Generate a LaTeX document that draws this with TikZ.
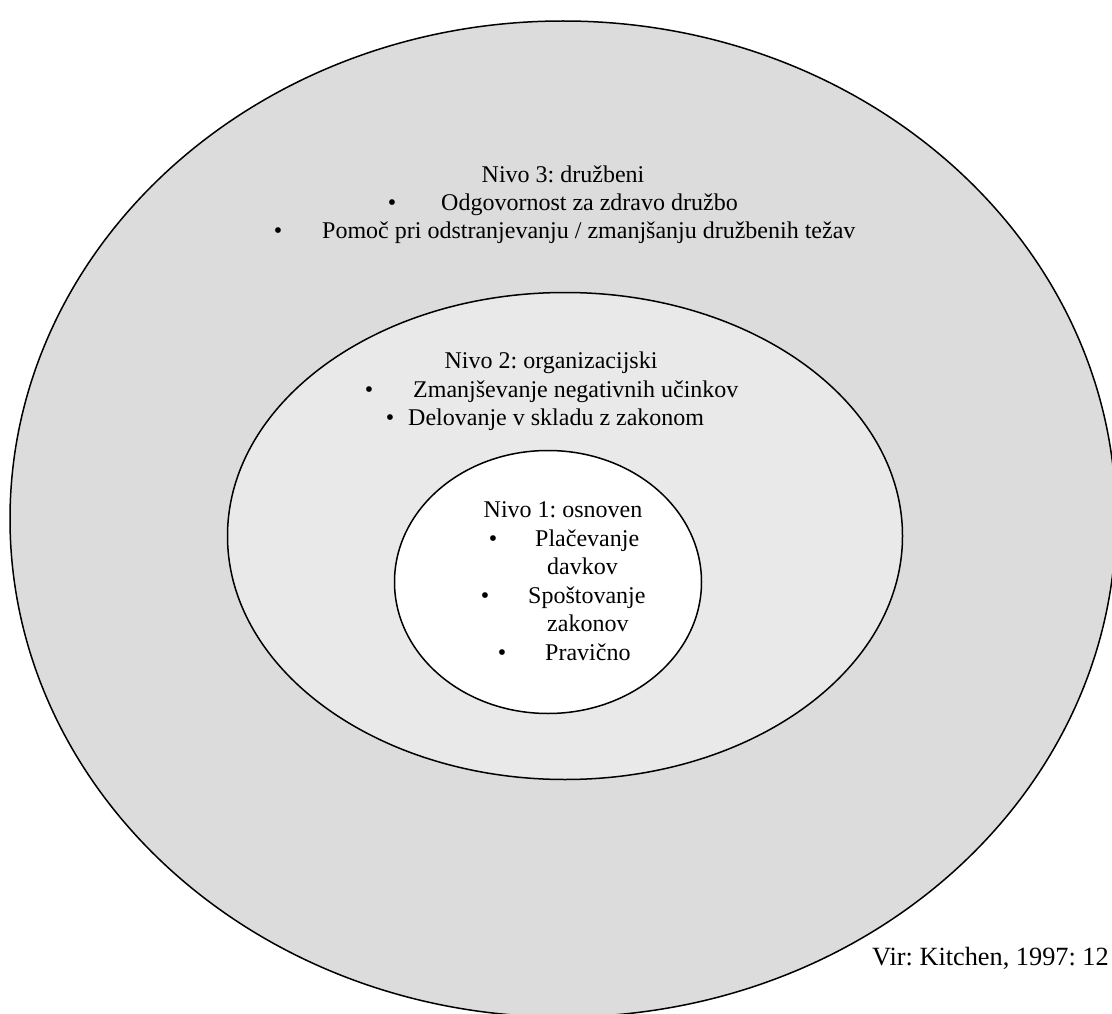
\documentclass[tikz,border=0pt]{standalone}
\usepackage{fontspec}
\setmainfont{Liberation Serif}
\frenchspacing
\usetikzlibrary{shapes.geometric}
\definecolor{ringouter}{HTML}{DCDCDC}
\definecolor{ringmiddle}{HTML}{E9E9E9}
\tikzset{
  ring/.style={ellipse, draw=black, line width=1.5pt, inner sep=0pt},
  txt/.style={font=\fontsize{24}{29}\selectfont, inner sep=0pt, anchor=base west},
  ctr/.style={font=\fontsize{24}{29}\selectfont, inner sep=0pt, anchor=base},
  dot/.style={font=\fontsize{24}{29}\selectfont, inner sep=0pt, anchor=base},
  srctxt/.style={font=\fontsize{26.3}{31}\selectfont, inner sep=0pt, anchor=base west}
}
\begin{document}
\begin{tikzpicture}[x=1pt,y=-1pt]
\useasboundingbox (0,0) rectangle (1112,1014);
\clip (0,0) rectangle (1112,1014);
% three nested levels
\node[ring, fill=ringouter, minimum width=1106pt, minimum height=996pt] (outer) at (563,519) {};
\node[ring, fill=ringmiddle, minimum width=675pt, minimum height=487pt] (middle) at (565,536) {};
\node[ring, fill=white, minimum width=307pt, minimum height=263pt] (inner) at (548,582) {};
% level 3
\node[ctr] (n3) at (563,183) {Nivo 3: družbeni};
\node[dot] (b31) at (392,211) {•};
\node[txt] (t31) at (441,211) {Odgovornost za zdravo družbo};
\node[dot] (b32) at (278,239) {•};
\node[txt] (t32) at (322,239) {Pomoč pri odstranjevanju / zmanjšanju družbenih težav};
% level 2
\node[ctr] (n2) at (551,368) {Nivo 2: organizacijski};
\node[dot] (b21) at (369,397) {•};
\node[txt] (t21) at (413,397) {Zmanjševanje negativnih učinkov};
\node[dot] (b22) at (390,425) {•};
\node[txt] (t22) at (408,425) {Delovanje v skladu z zakonom};
% level 1
\node[ctr] (n1) at (563,517) {Nivo 1: osnoven};
\node[dot] (b11) at (493,546) {•};
\node[txt] (t11) at (535,546) {Plačevanje};
\node[txt] (t11b) at (547,574) {davkov};
\node[dot] (b12) at (485,603) {•};
\node[txt] (t12) at (528,603) {Spoštovanje};
\node[txt] (t12b) at (547,631) {zakonov};
\node[dot] (b13) at (502,660) {•};
\node[txt] (t13) at (545,660) {Pravično};
% source
\node[srctxt] (src) at (872,965) {Vir: Kitchen, 1997: 12};
\end{tikzpicture}
\end{document}
